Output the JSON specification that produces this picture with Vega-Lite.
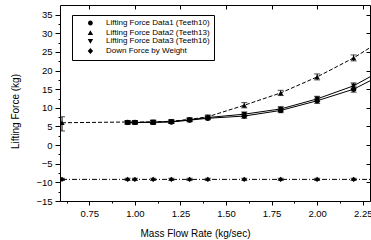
{
  "$schema": "https://vega.github.io/schema/vega-lite/v6.json",
  "width": 310,
  "height": 196,
  "autosize": {"type": "none"},
  "padding": {"left": 60, "top": 5, "right": 1, "bottom": 39},
  "background": "white",
  "config": {
    "font": "Liberation Sans",
    "view": {"stroke": "black", "strokeWidth": 1},
    "axis": {"grid": false, "domain": false, "tickColor": "black", "labelColor": "black", "titleColor": "black", "labelFont": "Liberation Sans", "titleFont": "Liberation Sans", "labelFontSize": 9.5, "titleFontSize": 10, "titleFontWeight": "normal"},
    "legend": {
      "title": null, "orient": "none", "legendX": 12, "legendY": 10, "padding": 4,
      "strokeColor": "black", "fillColor": "white",
      "labelFont": "Liberation Sans", "labelFontSize": 8, "labelColor": "black",
      "symbolSize": 36, "labelOffset": 22, "rowPadding": 0,
      "symbolFillColor": "black", "symbolStrokeColor": "black", "symbolStrokeWidth": 1, "symbolOpacity": 1
    }
  },
  "data": {
    "values": [
      {"s": "Lifting Force Data1 (Teeth10)", "x": 0.96, "y": 6.1, "lo": 5.7, "hi": 6.5},
      {"s": "Lifting Force Data1 (Teeth10)", "x": 1.0, "y": 6.1, "lo": 5.7, "hi": 6.5},
      {"s": "Lifting Force Data1 (Teeth10)", "x": 1.1, "y": 6.1, "lo": 5.6, "hi": 6.6},
      {"s": "Lifting Force Data1 (Teeth10)", "x": 1.2, "y": 6.2, "lo": 5.8, "hi": 6.6},
      {"s": "Lifting Force Data1 (Teeth10)", "x": 1.3, "y": 6.7, "lo": 6.3, "hi": 7.1},
      {"s": "Lifting Force Data1 (Teeth10)", "x": 1.4, "y": 7.2, "lo": 6.8, "hi": 7.6},
      {"s": "Lifting Force Data1 (Teeth10)", "x": 1.6, "y": 7.8, "lo": 7.2, "hi": 8.4},
      {"s": "Lifting Force Data1 (Teeth10)", "x": 1.8, "y": 9.3, "lo": 8.7, "hi": 9.9},
      {"s": "Lifting Force Data1 (Teeth10)", "x": 2.0, "y": 11.9, "lo": 11.2, "hi": 12.6},
      {"s": "Lifting Force Data1 (Teeth10)", "x": 2.2, "y": 15.0, "lo": 14.2, "hi": 15.8},
      {"s": "Lifting Force Data1 (Teeth10)", "x": 2.4, "y": 20.0, "lo": 19.2, "hi": 20.8},
      {"s": "Lifting Force Data2 (Teeth13)", "x": 0.6, "y": 6.0, "lo": 3.8, "hi": 7.6},
      {"s": "Lifting Force Data2 (Teeth13)", "x": 0.96, "y": 6.2, "lo": 5.8, "hi": 6.6},
      {"s": "Lifting Force Data2 (Teeth13)", "x": 1.0, "y": 6.2, "lo": 5.8, "hi": 6.6},
      {"s": "Lifting Force Data2 (Teeth13)", "x": 1.1, "y": 6.2, "lo": 5.8, "hi": 6.6},
      {"s": "Lifting Force Data2 (Teeth13)", "x": 1.2, "y": 6.4, "lo": 6.0, "hi": 6.8},
      {"s": "Lifting Force Data2 (Teeth13)", "x": 1.3, "y": 6.9, "lo": 6.5, "hi": 7.3},
      {"s": "Lifting Force Data2 (Teeth13)", "x": 1.4, "y": 7.6, "lo": 7.1, "hi": 8.1},
      {"s": "Lifting Force Data2 (Teeth13)", "x": 1.6, "y": 10.7, "lo": 10.0, "hi": 11.4},
      {"s": "Lifting Force Data2 (Teeth13)", "x": 1.8, "y": 14.0, "lo": 13.3, "hi": 14.7},
      {"s": "Lifting Force Data2 (Teeth13)", "x": 2.0, "y": 18.3, "lo": 17.5, "hi": 19.1},
      {"s": "Lifting Force Data2 (Teeth13)", "x": 2.2, "y": 23.4, "lo": 22.6, "hi": 24.2},
      {"s": "Lifting Force Data2 (Teeth13)", "x": 2.4, "y": 29.5, "lo": 28.7, "hi": 30.3},
      {"s": "Lifting Force Data3 (Teeth16)", "x": 0.96, "y": 6.0, "lo": 5.6, "hi": 6.4},
      {"s": "Lifting Force Data3 (Teeth16)", "x": 1.0, "y": 6.0, "lo": 5.6, "hi": 6.4},
      {"s": "Lifting Force Data3 (Teeth16)", "x": 1.1, "y": 6.2, "lo": 5.7, "hi": 6.7},
      {"s": "Lifting Force Data3 (Teeth16)", "x": 1.2, "y": 6.3, "lo": 5.9, "hi": 6.7},
      {"s": "Lifting Force Data3 (Teeth16)", "x": 1.3, "y": 6.8, "lo": 6.4, "hi": 7.2},
      {"s": "Lifting Force Data3 (Teeth16)", "x": 1.4, "y": 7.4, "lo": 7.0, "hi": 7.8},
      {"s": "Lifting Force Data3 (Teeth16)", "x": 1.6, "y": 8.3, "lo": 7.7, "hi": 8.9},
      {"s": "Lifting Force Data3 (Teeth16)", "x": 1.8, "y": 9.7, "lo": 9.1, "hi": 10.3},
      {"s": "Lifting Force Data3 (Teeth16)", "x": 2.0, "y": 12.4, "lo": 11.7, "hi": 13.1},
      {"s": "Lifting Force Data3 (Teeth16)", "x": 2.2, "y": 15.9, "lo": 15.1, "hi": 16.7},
      {"s": "Lifting Force Data3 (Teeth16)", "x": 2.4, "y": 21.3, "lo": 20.5, "hi": 22.1},
      {"s": "Down Force by Weight", "x": 0.6, "y": -9.2, "lo": -9.5, "hi": -8.9},
      {"s": "Down Force by Weight", "x": 0.96, "y": -9.2, "lo": -9.5, "hi": -8.9},
      {"s": "Down Force by Weight", "x": 1.0, "y": -9.2, "lo": -9.5, "hi": -8.9},
      {"s": "Down Force by Weight", "x": 1.1, "y": -9.2, "lo": -9.5, "hi": -8.9},
      {"s": "Down Force by Weight", "x": 1.2, "y": -9.2, "lo": -9.5, "hi": -8.9},
      {"s": "Down Force by Weight", "x": 1.3, "y": -9.2, "lo": -9.5, "hi": -8.9},
      {"s": "Down Force by Weight", "x": 1.4, "y": -9.2, "lo": -9.5, "hi": -8.9},
      {"s": "Down Force by Weight", "x": 1.6, "y": -9.2, "lo": -9.5, "hi": -8.9},
      {"s": "Down Force by Weight", "x": 1.8, "y": -9.2, "lo": -9.5, "hi": -8.9},
      {"s": "Down Force by Weight", "x": 2.0, "y": -9.2, "lo": -9.5, "hi": -8.9},
      {"s": "Down Force by Weight", "x": 2.2, "y": -9.2, "lo": -9.5, "hi": -8.9},
      {"s": "Down Force by Weight", "x": 2.4, "y": -9.2, "lo": -9.5, "hi": -8.9}
    ]
  },
  "resolve": {"axis": {"x": "independent", "y": "independent"}},
  "layer": [
    {
      "transform": [{"filter": {"field": "s", "oneOf": ["Lifting Force Data1 (Teeth10)", "Lifting Force Data3 (Teeth16)"]}}],
      "mark": {"type": "line", "color": "black", "strokeWidth": 1, "clip": true},
      "encoding": {
        "x": {"field": "x", "type": "quantitative", "scale": {"domain": [0.589, 2.29], "nice": false, "zero": false},
          "axis": {"orient": "bottom", "title": "Mass Flow Rate (kg/sec)", "values": [0.75, 1.0, 1.25, 1.5, 1.75, 2.0, 2.25], "format": ".2f", "tickSize": 4, "labelPadding": 3, "titlePadding": 11, "titleX": 135}},
        "y": {"field": "y", "type": "quantitative", "scale": {"domain": [-15, 37.6], "nice": false, "zero": false},
          "axis": {"orient": "left", "title": "Lifting Force (kg)", "values": [-15, -10, -5, 0, 5, 10, 15, 20, 25, 30, 35], "tickSize": 5, "labelPadding": 3, "titlePadding": 15, "titleY": 106}},
        "detail": {"field": "s"}
      }
    },
    {
      "transform": [{"filter": {"field": "s", "equal": "Lifting Force Data2 (Teeth13)"}}],
      "mark": {"type": "line", "color": "black", "strokeWidth": 1, "strokeDash": [4, 2], "clip": true},
      "encoding": {
        "x": {"field": "x", "type": "quantitative", "axis": null},
        "y": {"field": "y", "type": "quantitative", "axis": null}
      }
    },
    {
      "transform": [{"filter": {"field": "s", "equal": "Down Force by Weight"}}],
      "mark": {"type": "line", "color": "black", "strokeWidth": 1, "strokeDash": [5, 2, 1, 2], "clip": true},
      "encoding": {
        "x": {"field": "x", "type": "quantitative", "axis": null},
        "y": {"field": "y", "type": "quantitative", "axis": null}
      }
    },
    {
      "mark": {"type": "rule", "color": "black", "strokeWidth": 1, "clip": true},
      "encoding": {
        "x": {"field": "x", "type": "quantitative",
          "axis": {"orient": "bottom", "title": null, "labels": false, "values": [0.625, 0.875, 1.125, 1.375, 1.625, 1.875, 2.125], "tickSize": 2}},
        "y": {"field": "lo", "type": "quantitative",
          "axis": {"orient": "left", "title": null, "labels": false, "values": [-12.5, -7.5, -2.5, 2.5, 7.5, 12.5, 17.5, 22.5, 27.5, 32.5], "tickSize": 2}},
        "y2": {"field": "hi"}
      }
    },
    {
      "mark": {"type": "tick", "color": "black", "thickness": 1, "size": 6, "orient": "horizontal", "clip": true},
      "encoding": {
        "x": {"field": "x", "type": "quantitative", "axis": null},
        "y": {"field": "lo", "type": "quantitative", "axis": null}
      }
    },
    {
      "mark": {"type": "tick", "color": "black", "thickness": 1, "size": 6, "orient": "horizontal", "clip": true},
      "encoding": {
        "x": {"field": "x", "type": "quantitative", "axis": null},
        "y": {"field": "hi", "type": "quantitative", "axis": null}
      }
    },
    {
      "transform": [{"filter": {"field": "s", "equal": "Lifting Force Data1 (Teeth10)"}}],
      "mark": {"type": "point", "shape": "circle", "filled": true, "color": "black", "opacity": 1, "size": 28, "clip": true},
      "encoding": {
        "x": {"field": "x", "type": "quantitative",
          "axis": {"orient": "top", "title": null, "labels": false, "values": [0.75, 1.0, 1.25, 1.5, 1.75, 2.0, 2.25], "tickSize": -4}},
        "y": {"field": "y", "type": "quantitative",
          "axis": {"orient": "right", "title": null, "labels": false, "values": [-15, -10, -5, 0, 5, 10, 15, 20, 25, 30, 35], "tickSize": -4}}
      }
    },
    {
      "transform": [{"filter": {"field": "s", "equal": "Lifting Force Data2 (Teeth13)"}}],
      "mark": {"type": "point", "shape": "triangle-up", "filled": true, "color": "black", "opacity": 1, "size": 28, "clip": true},
      "encoding": {
        "x": {"field": "x", "type": "quantitative", "axis": null},
        "y": {"field": "y", "type": "quantitative", "axis": null}
      }
    },
    {
      "transform": [{"filter": {"field": "s", "equal": "Lifting Force Data3 (Teeth16)"}}],
      "mark": {"type": "point", "shape": "triangle-down", "filled": true, "color": "black", "opacity": 1, "size": 28, "clip": true},
      "encoding": {
        "x": {"field": "x", "type": "quantitative", "axis": null},
        "y": {"field": "y", "type": "quantitative", "axis": null}
      }
    },
    {
      "transform": [{"filter": {"field": "s", "equal": "Down Force by Weight"}}],
      "mark": {"type": "point", "shape": "diamond", "filled": true, "color": "black", "opacity": 1, "size": 28, "clip": true},
      "encoding": {
        "x": {"field": "x", "type": "quantitative", "axis": null},
        "y": {"field": "y", "type": "quantitative", "axis": null}
      }
    },
    {
      "mark": {"type": "point", "filled": true, "color": "black", "opacity": 0, "size": 36, "clip": true},
      "encoding": {
        "x": {"field": "x", "type": "quantitative", "axis": null},
        "y": {"field": "y", "type": "quantitative", "axis": null},
        "shape": {"field": "s", "type": "nominal",
          "scale": {"domain": ["Lifting Force Data1 (Teeth10)", "Lifting Force Data2 (Teeth13)", "Lifting Force Data3 (Teeth16)", "Down Force by Weight"],
            "range": ["M-0.67,0H7.67M2.67,0A0.8,0.8 0 1,1 4.27,0A0.8,0.8 0 1,1 2.67,0Z", "M-0.67,0H7.67M3.47,-0.9L4.37,0.65L2.57,0.65Z", "M-0.67,0H7.67M3.47,0.9L4.37,-0.65L2.57,-0.65Z", "M-0.67,0H7.67M3.47,-1L4.37,0L3.47,1L2.57,0Z"]}},
        "strokeDash": {"field": "s", "type": "nominal",
          "scale": {"domain": ["Lifting Force Data1 (Teeth10)", "Lifting Force Data2 (Teeth13)", "Lifting Force Data3 (Teeth16)", "Down Force by Weight"], "range": [[1, 0], [4, 2], [1, 0], [5, 2, 1, 2]]}}
      }
    }
  ]
}
